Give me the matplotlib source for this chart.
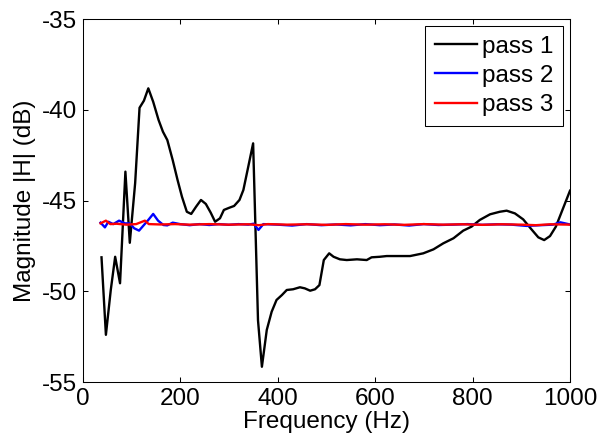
import matplotlib
matplotlib.use("Agg")
import matplotlib.pyplot as plt

plt.rcParams["font.family"] = ["Liberation Sans", "DejaVu Sans"]
plt.rcParams["axes.unicode_minus"] = False

# pass 1 (black)
freq1 = [39, 48, 58, 67, 77, 88, 97, 108, 117, 126, 135, 145, 156, 165, 174,
         185, 195, 204, 214, 223, 233, 243, 253, 263, 272, 282, 290, 301, 311,
         322, 330, 340, 350, 360, 368, 378, 388, 398, 409, 419, 432, 446, 456,
         467, 477, 486, 495, 506, 515, 528, 542, 563, 583, 593, 610, 624, 645,
         672, 699, 720, 740, 761, 781, 798, 815, 836, 856, 870, 887, 904, 921,
         935, 947, 959, 971, 983, 1000]
mag1 = [-48.13, -52.4, -49.93, -48.10, -49.56, -43.41, -47.33, -44.04, -39.89,
        -39.50, -38.82, -39.56, -40.56, -41.21, -41.67, -42.77, -43.87, -44.79,
        -45.62, -45.74, -45.34, -44.97, -45.19, -45.67, -46.17, -45.98, -45.52,
        -45.40, -45.30, -44.97, -44.42, -43.14, -41.85, -51.6, -54.16, -52.13,
        -51.13, -50.48, -50.21, -49.93, -49.89, -49.78, -49.84, -49.97, -49.89,
        -49.66, -48.28, -47.91, -48.10, -48.24, -48.28, -48.24, -48.28, -48.13,
        -48.10, -48.06, -48.06, -48.06, -47.91, -47.69, -47.36, -47.08, -46.66,
        -46.44, -46.07, -45.76, -45.62, -45.56, -45.71, -46.04, -46.59, -47.03,
        -47.18, -46.96, -46.44, -45.62, -44.46]

# pass 2 (blue)
freq2 = [37, 46, 53, 63, 75, 87, 97, 106, 116, 126, 135, 145, 155, 166, 174,
         185, 200, 220, 240, 260, 280, 300, 320, 340, 351, 361, 371, 400, 430,
         460, 490, 520, 550, 580, 610, 640, 670, 700, 730, 760, 790, 820, 850,
         880, 911, 940, 965, 980, 1000]
mag2 = [-46.22, -46.48, -46.17, -46.30, -46.11, -46.26, -46.26, -46.53, -46.66,
        -46.35, -46.07, -45.74, -46.11, -46.35, -46.37, -46.22, -46.30, -46.36,
        -46.30, -46.35, -46.30, -46.34, -46.30, -46.33, -46.28, -46.62, -46.30,
        -46.33, -46.38, -46.30, -46.36, -46.32, -46.37, -46.30, -46.36, -46.32,
        -46.38, -46.30, -46.35, -46.33, -46.30, -46.34, -46.31, -46.33, -46.40,
        -46.36, -46.33, -46.20, -46.32]

# pass 3 (red)
freq3 = [37, 48, 57, 70, 90, 110, 128, 136, 160, 190, 220, 260, 300, 340, 362,
         380, 420, 460, 500, 540, 580, 620, 660, 700, 740, 780, 820, 860, 900,
         930, 960, 1000]
mag3 = [-46.26, -46.11, -46.30, -46.28, -46.33, -46.30, -46.11, -46.30, -46.32,
        -46.30, -46.33, -46.30, -46.33, -46.31, -46.36, -46.30, -46.33, -46.31,
        -46.34, -46.30, -46.33, -46.31, -46.34, -46.30, -46.33, -46.31, -46.34,
        -46.31, -46.33, -46.36, -46.31, -46.33]

FS = 17.5

fig = plt.figure(figsize=(6.0, 4.4), dpi=100)
ax = fig.add_axes([0.1375, 0.1318, 0.8125, 0.825])

ax.plot(freq1, mag1, color="black", lw=1.7, label="pass 1")
ax.plot(freq2, mag2, color="blue", lw=1.7, label="pass 2")
ax.plot(freq3, mag3, color="red", lw=1.7, label="pass 3")

ax.set_xlim(0, 1000)
ax.set_ylim(-55, -35)
ax.set_xticks([0, 200, 400, 600, 800, 1000])
ax.set_yticks([-55, -50, -45, -40, -35])
ax.tick_params(direction="in", length=3.5, width=0.75, labelsize=FS,
               top=True, right=True, pad=4)
for s in ax.spines.values():
    s.set_linewidth(0.75)

ax.set_xlabel("Frequency (Hz)", fontsize=FS, labelpad=1)
ax.set_ylabel("Magnitude |H| (dB)", fontsize=FS, labelpad=4)

leg = ax.legend(loc="upper right", fontsize=FS, fancybox=False, framealpha=1,
                edgecolor="black", handlelength=1.75, handletextpad=0.2,
                labelspacing=0.3, borderaxespad=0.28, borderpad=0.4)
leg.get_frame().set_linewidth(0.75)

fig.savefig("out.png", dpi=100)
